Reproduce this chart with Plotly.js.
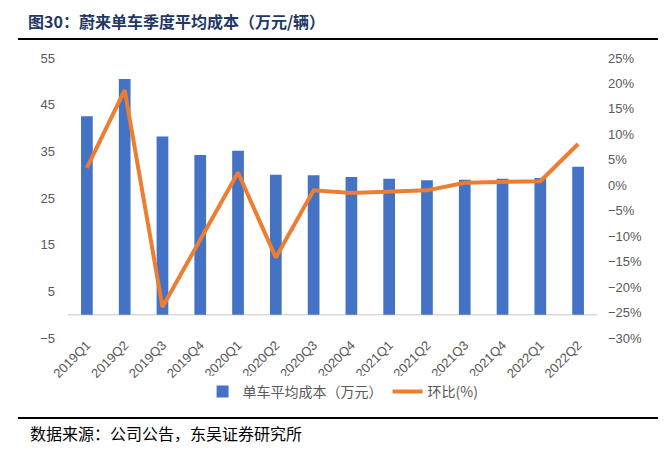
<!DOCTYPE html>
<html>
<head>
<meta charset="utf-8">
<script src="https://cdn.plot.ly/plotly-3.0.1.min.js"></script>
<style>html,body{margin:0;padding:0;background:#fff;}#chart{width:665px;height:452px;}</style>
</head>
<body>
<div id="chart"></div>
<script>
const quarters = ["2019Q1","2019Q2","2019Q3","2019Q4","2020Q1","2020Q2","2020Q3","2020Q4","2021Q1","2021Q2","2021Q3","2021Q4","2022Q1","2022Q2"];
const avgCost = [42.5, 50.5, 38.2, 34.2, 35.1, 30.0, 29.9, 29.5, 29.1, 28.8, 28.9, 29.1, 29.3, 31.7];
const qoqPct = [3.4, 18.7, -23.9, -10.7, 2.5, -14.2, -1.0, -1.5, -1.2, -1.0, 0.5, 0.6, 0.8, 8.1];
const seriesNames = ["单车平均成本（万元）", "环比(%)"];

const tickFont = {family: "Liberation Sans, Arial, sans-serif", size: 13, color: "#595959"};
const cjk = "Noto Sans CJK SC, sans-serif";

const traces = [
  {type: "bar", x: quarters, y: avgCost, name: seriesNames[0], marker: {color: "#4472C4"}, yaxis: "y"},
  {type: "scatter", mode: "lines", x: quarters, y: qoqPct, name: seriesNames[1], line: {color: "#ED7D31", width: 4}, yaxis: "y2"}
];

const layout = {
  width: 665, height: 452,
  margin: {l: 68, r: 68, t: 58, b: 114, pad: 0},
  paper_bgcolor: "#fff", plot_bgcolor: "#fff",
  bargap: 0.69,
  showlegend: true,
  title: {text: "图30：蔚来单车季度平均成本（万元/辆）", font: {family: cjk, size: 16, color: "#1F3864", weight: 700},
          x: 28/665, xanchor: "left", xref: "container", y: 1 - 22/452, yanchor: "middle", yref: "container"},
  xaxis: {type: "category", showline: false, showgrid: false, zeroline: false, ticks: "", tickangle: -45,
          tickfont: tickFont, ticklabelstandoff: -4, fixedrange: true},
  yaxis: {range: [-5, 55], dtick: 10, tick0: -5, showgrid: false, zeroline: false, showline: false, ticks: "",
          tickfont: tickFont, ticklabelstandoff: 12},
  yaxis2: {range: [-30, 25], dtick: 5, tick0: -30, overlaying: "y", side: "right", showgrid: false, zeroline: false,
           showline: false, ticks: "", ticksuffix: "%", tickfont: tickFont, ticklabelstandoff: 10},
  legend: {orientation: "h", x: 0.52, xanchor: "center", y: (338-392)/280, yanchor: "middle",
           font: {family: cjk, size: 14, color: "#595959"}, itemwidth: 30, traceorder: "normal"},
  shapes: [
    {type: "line", xref: "paper", yref: "y", x0: 0, x1: 1, y0: 0, y1: 0, line: {color: "#D9D9D9", width: 1.5}, layer: "below"},
    {type: "line", xref: "paper", yref: "paper", x0: (18-68)/529, x1: (658-68)/529, y0: (338-39)/280, y1: (338-39)/280, line: {color: "#000", width: 2}},
    {type: "line", xref: "paper", yref: "paper", x0: (18-68)/529, x1: (658-68)/529, y0: (338-418)/280, y1: (338-418)/280, line: {color: "#000", width: 2}}
  ],
  annotations: [
    {text: "数据来源：公司公告，东吴证券研究所", xref: "paper", yref: "paper", x: (28-68)/529, y: (338-433)/280,
     xanchor: "left", yanchor: "middle", showarrow: false, font: {family: cjk, size: 16, color: "#000"}}
  ]
};

Plotly.newPlot("chart", traces, layout, {displayModeBar: false, staticPlot: true});
</script>
</body>
</html>
